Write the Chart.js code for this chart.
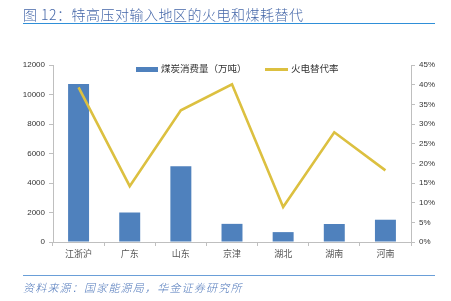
<!DOCTYPE html>
<html><head><meta charset="utf-8">
<script src="https://cdn.jsdelivr.net/npm/chart.js@4"></script>
<style>
html,body{margin:0;padding:0;background:#fff;width:451px;height:301px;overflow:hidden;font-family:"Noto Sans CJK SC","Liberation Sans",sans-serif;}
#wrap{position:relative;width:451px;height:301px;}
#c{position:absolute;left:0;top:0;}
#title{position:absolute;left:23px;top:4px;font-size:14px;color:#4466a8;letter-spacing:0.5px;white-space:nowrap;font-weight:300;}
#tline{position:absolute;left:23px;top:23px;width:412px;height:0;border-top:1.5px solid #2f8fd8;}
#fline{position:absolute;left:23px;top:275px;width:412px;height:0;border-top:1.5px solid #6a9fd8;}
#foot{position:absolute;left:23px;top:279px;font-size:11px;color:#5078bb;font-style:italic;white-space:nowrap;letter-spacing:1.2px;font-weight:300;}
.lg{position:absolute;top:61px;font-size:9.5px;color:#333;white-space:nowrap;}
.sw{display:inline-block;vertical-align:middle;margin-right:3px;}
</style></head>
<body><div id="wrap">
<canvas id="c" width="451" height="301"></canvas>
<div id="title">图 12：特高压对输入地区的火电和煤耗替代</div>
<div id="tline"></div>
<div class="lg" style="left:136px;"><span class="sw" style="width:22px;height:5px;background:#4f81bd;"></span>煤炭消费量（万吨）</div>
<div class="lg" style="left:265px;"><span class="sw" style="width:23px;height:3px;background:#dcc040;"></span>火电替代率</div>
<div id="fline"></div>
<div id="foot">资料来源：国家能源局，华金证券研究所</div>
</div>
<script>
const categories = ["江浙沪","广东","山东","京津","湖北","湖南","河南"];
const coalConsumption = [10720, 2000, 5130, 1230, 670, 1220, 1510];
const replacementRate = [0.393, 0.142, 0.335, 0.401, 0.089, 0.279, 0.182];
const leftTicks = [0, 2000, 4000, 6000, 8000, 10000, 12000];
const rightTicks = [0, 0.05, 0.10, 0.15, 0.20, 0.25, 0.30, 0.35, 0.40, 0.45];

const axisColor = '#bfbfbf';
const tickFont = {family:'"Liberation Sans", Arial, sans-serif', size:8};
new Chart(document.getElementById('c'), {
  data: {
    labels: categories,
    datasets: [
      {type:'line', label:'火电替代率', data: replacementRate, yAxisID:'y1',
       borderColor:'#dcc040', borderWidth:2.6, pointRadius:0, tension:0, order:0},
      {type:'bar', label:'煤炭消费量（万吨）', data: coalConsumption, yAxisID:'y',
       backgroundColor:'#4f81bd', borderWidth:0,
       categoryPercentage:1, barPercentage:0.41, order:1}
    ]
  },
  options: {
    responsive:false, animation:false, devicePixelRatio:1,
    layout:{padding:{left:0,right:0,top:65,bottom:39}},
    plugins:{legend:{display:false}, tooltip:{enabled:false}},
    scales:{
      x:{offset:true,
         grid:{display:true, drawOnChartArea:false, drawTicks:true, tickLength:4, color:axisColor, offset:true},
         border:{color:axisColor},
         ticks:{font:{family:'"Noto Sans CJK SC", sans-serif', size:9}, color:'#555', padding:2, maxRotation:0},
         afterFit(a){a.height=20;}},
      y:{position:'left', min:0, max:12000,
         afterBuildTicks(a){a.ticks = leftTicks.map(v=>({value:v}));},
         grid:{drawOnChartArea:false, drawTicks:true, tickLength:4, color:axisColor},
         border:{color:axisColor},
         ticks:{font:tickFont, color:'#333', padding:4, callback:v=>String(v)},
         afterFit(a){a.width=53;}},
      y1:{position:'right', min:0, max:0.45,
         afterBuildTicks(a){a.ticks = rightTicks.map(v=>({value:v}));},
         grid:{drawOnChartArea:false, drawTicks:true, tickLength:4, color:axisColor},
         border:{color:axisColor},
         ticks:{font:tickFont, color:'#333', padding:4, callback:v=>Math.round(v*100)+'%'},
         afterFit(a){a.width=40;}}
    }
  }
});
</script>
</body></html>
